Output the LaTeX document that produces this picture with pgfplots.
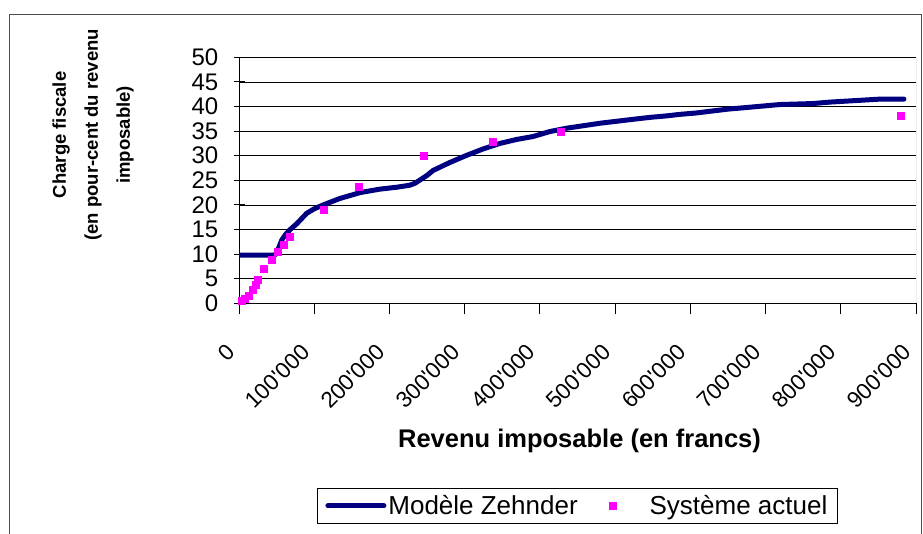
\documentclass[border=0pt]{standalone}
\usepackage{fontspec}
\setmainfont{Liberation Sans}[Ligatures=TeXOff]
\usepackage{pgfplots}
\pgfplotsset{compat=1.18}
\definecolor{zehnder}{HTML}{000080}
\definecolor{actuel}{HTML}{FF00FF}

\begin{document}
\begin{tikzpicture}[x=1pt,y=1pt]
\useasboundingbox (0,0) rectangle (923,533);
% cadre du graphique
\draw[black!70, line width=1pt] (9,-5) -- (9,518) -- (921,518) -- (921,-5);
\begin{axis}[
  at={(239pt,229.7pt)}, anchor=south west,
  scale only axis, width=677pt, height=246pt,
  xmin=0, xmax=900000, ymin=0, ymax=50,
  axis x line*=bottom, axis y line*=left,
  axis line style={black, line width=1pt},
  scaled x ticks=false,
  xtick={0,100000,200000,300000,400000,500000,600000,700000,800000,900000},
  xticklabels={0,100'000,200'000,300'000,400'000,500'000,600'000,700'000,800'000,900'000},
  ytick={0,5,...,50},
  ymajorgrids, grid style={black, line width=0.8pt},
  x tick style={black, line width=1pt}, y tick style={black, line width=1pt},
  xtick align=outside, ytick align=center,
  major tick length=11pt,
  /pgf/number format/assume math mode=true,
  ticklabel style={font=\fontsize{24}{24}\selectfont},
  xticklabel style={rotate=45, anchor=east, inner sep=0pt, xshift=-30pt, yshift=-18pt, font=\fontsize{22.5}{22.5}\selectfont},
  yticklabel style={anchor=east, inner sep=0pt, xshift=-15pt},
  xlabel={Revenu imposable (en francs)},
  xlabel style={at={(axis description cs:0.503,-0.5854)}, anchor=base, font=\fontsize{25.5}{25.5}\selectfont\bfseries},
  ylabel={Charge fiscale\\(en pour-cent du revenu\\imposable)},
  ylabel style={at={(axis description cs:-0.2157,0.685)}, anchor=center, align=center, font=\fontsize{18.5}{32}\selectfont\bfseries},
  legend columns=2,
  legend style={at={(axis description cs:0.1152,-0.751)}, anchor=north west,
    draw=black, line width=0.8pt, inner xsep=8pt, inner ysep=5pt,
    font=\fontsize{26}{26}\selectfont,
    /tikz/every even column/.append style={column sep=29pt}},
]
\addplot[zehnder, line width=5pt, line cap=round, line join=round,
  legend image code/.code={\draw[zehnder, line width=5pt, line cap=round] (0pt,0pt) -- (56pt,0pt);}]
  coordinates {
  (0,9.8) (20000,9.8) (48000,9.8) (52000,11.0) (57000,12.9) (62000,14.0)
  (68000,15.0) (77000,16.2) (90000,18.3) (100000,19.2) (112000,20.0)
  (134000,21.3) (161000,22.5) (187000,23.2) (210000,23.6) (227000,24.0)
  (234000,24.4) (242000,25.2) (250000,26.0) (258000,27.0) (280000,28.6)
  (303000,30.1) (325000,31.4) (347000,32.5) (369000,33.3) (391000,33.9)
  (413000,34.9) (436000,35.6) (458000,36.1) (480000,36.6) (502000,37.0)
  (524000,37.4) (547000,37.8) (569000,38.1) (586000,38.4) (609000,38.7)
  (630000,39.1) (652000,39.5) (675000,39.8) (697000,40.1) (719000,40.4)
  (741000,40.5) (763000,40.6) (786000,40.9) (808000,41.1) (830000,41.3)
  (852000,41.5) (884000,41.5)
  };
\addlegendentry{Modèle Zehnder}
\addplot[only marks, mark=square*, mark size=3.5pt, color=actuel, mark options={draw=actuel, fill=actuel},
  legend image code/.code={\path[draw=none] (0pt,0pt) -- (36pt,0pt);
    \fill[actuel] (-2.5pt,-3.5pt) rectangle (4.5pt,3.5pt);}]
  coordinates {
  (4000,0.6) (8000,1.0) (13000,1.6) (18000,2.8) (22000,3.7) (25000,4.8)
  (33000,7.1) (44000,8.8) (52000,10.4) (60000,12.0) (68000,13.6)
  (113000,19.0) (159000,23.7) (246000,29.9) (337000,32.8) (427000,34.9)
  (879000,38.1)
  };
\addlegendentry{Système actuel}
\draw[black!50, line width=1pt] (rel axis cs:1,0) -- (rel axis cs:1,1);
\end{axis}
\end{tikzpicture}
\end{document}
